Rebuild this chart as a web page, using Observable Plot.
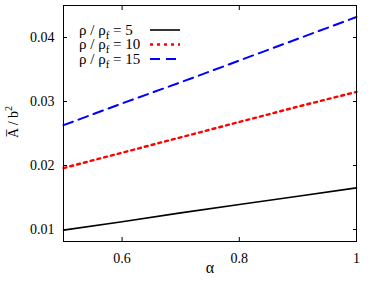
<!DOCTYPE html>
<html><head><meta charset="utf-8">
<script src="https://cdn.jsdelivr.net/npm/d3@7"></script>
<script src="https://cdn.jsdelivr.net/npm/@observablehq/plot@0.6"></script>
<style>body{margin:0;background:#fff}</style>
</head><body><div id="chart"></div>
<script>
const alpha = [0.5, 0.6, 0.7, 0.8, 0.9, 1.0];
const ratio5  = [0.0099, 0.0112, 0.0126, 0.0139, 0.0152, 0.0165];
const ratio10 = [0.0196, 0.0220, 0.0244, 0.0268, 0.0292, 0.0315];
const ratio15 = [0.0263, 0.0297, 0.0330, 0.0364, 0.0398, 0.0432];
const seriesNames = ["5", "10", "15"];
const seriesColors = ["#000000", "#ff0000", "#0000ff"];
const seriesDash = [null, "3,4", "10,6"];
const seriesWidth = [1.6, 2.4, 2];
const xTicks = [0.6, 0.8, 1];
const yTicks = [0.01, 0.02, 0.03, 0.04];
const FONT = "Liberation Serif";

const allSeries = [ratio5, ratio10, ratio15];
const lines = allSeries.map((vals, i) => Plot.line(alpha.map((a, j) => ({a, v: vals[j]})), {
  x: "a", y: "v", stroke: seriesColors[i], strokeWidth: seriesWidth[i],
  strokeDasharray: seriesDash[i] || undefined
}));

const chart = Plot.plot({
  width: 374, height: 281,
  marginLeft: 63, marginTop: 5, marginRight: 18, marginBottom: 40,
  style: {fontFamily: FONT, fontSize: "14px", color: "#000", background: "#fff"},
  x: {domain: [0.5, 1]},
  y: {domain: [0.008125, 0.045]},
  marks: [
    ...lines,
    Plot.axisX({ticks: xTicks, tickSize: 0, tickPadding: 12, tickFormat: d => String(d), label: null, fontSize: 14}),
    Plot.axisX({ticks: xTicks, tickSize: -4, text: null, label: null}),
    Plot.axisX({ticks: xTicks, anchor: "top", tickSize: -4, text: null, label: null}),
    Plot.axisY({ticks: yTicks, tickSize: 0, tickPadding: 9, tickFormat: d => d.toFixed(2), label: null, fontSize: 14}),
    Plot.axisY({ticks: yTicks, tickSize: -4, text: null, label: null}),
    Plot.axisY({ticks: yTicks, anchor: "right", tickSize: -4, text: null, label: null}),
    Plot.frame({stroke: "#000", strokeWidth: 1}),
    Plot.text(["α"], {frameAnchor: "bottom", dy: 31, fontSize: 16})
  ]
});
document.getElementById("chart").appendChild(chart);

const svg = d3.select(chart);
// y-axis label with overline and superscript
const yl = svg.append("text").attr("transform", "translate(18,122) rotate(-90)")
  .attr("text-anchor", "middle").attr("font-size", 14).attr("fill", "#000");
yl.append("tspan").text("A\u0305 / b");
yl.append("tspan").attr("font-size", 10).attr("dy", -6).text("2");

// legend with subscript
const lg = svg.append("g").attr("text-anchor", "start");
seriesNames.forEach((name, i) => {
  const y = 30 + i * 14.5;
  const t = lg.append("text").attr("x", 79).attr("y", y).attr("dy", "0.32em")
    .attr("font-size", 15).attr("fill", "#000").attr("text-anchor", "start");
  t.append("tspan").text("ρ / ρ");
  t.append("tspan").attr("font-size", 11).attr("dy", 4).text("f");
  t.append("tspan").attr("dy", -4).text(" = " + name);
  lg.append("line").attr("x1", 150).attr("x2", 180).attr("y1", y).attr("y2", y)
    .attr("stroke", seriesColors[i]).attr("stroke-width", seriesWidth[i])
    .attr("stroke-dasharray", seriesDash[i]);
});
svg.selectAll("text").style("font-family", FONT);
</script></body></html>
